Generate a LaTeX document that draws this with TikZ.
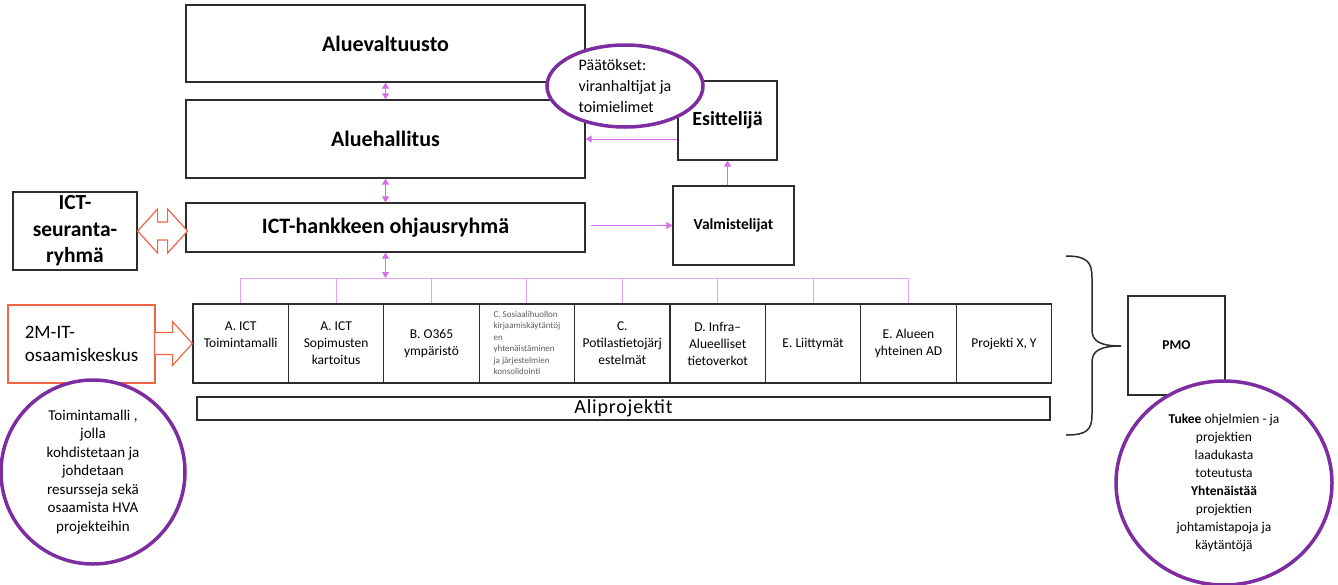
\documentclass[tikz,border=0pt]{standalone}
\usepackage{fontspec}
\setmainfont{Carlito}
\usepackage{tikz}
\usetikzlibrary{arrows.meta,shapes.geometric}
\definecolor{boxline}{RGB}{45,45,45}
\definecolor{linkpink}{RGB}{212,110,235}
\definecolor{forkpink}{RGB}{226,165,240}
\definecolor{ringpurple}{RGB}{125,45,160}
\definecolor{arroworange}{RGB}{240,100,70}
\definecolor{smallgray}{RGB}{95,95,95}

\begin{document}
\begin{tikzpicture}[x=1pt,y=-1pt,
		box/.style={draw=boxline,line width=1.2pt,fill=white,inner sep=0pt,align=center},
		ring/.style={draw=ringpurple,line width=3.5pt,fill=white,ellipse,inner sep=0pt,align=center},
		link/.style={draw=linkpink,line width=1pt,-{Triangle[width=7pt,length=6pt]}},
		twolink/.style={draw=linkpink,line width=1pt,{Triangle[width=7pt,length=6pt]}-{Triangle[width=7pt,length=6pt]}},
		forkline/.style={draw=forkpink,line width=1pt},
		blockarrow/.style={draw=arroworange,line width=1.2pt,fill=white,line join=miter},
		bigbold/.style={font=\fontsize{22}{26}\selectfont\bfseries},
		rowtext/.style={font=\fontsize{13.5}{17}\selectfont},
		ringtext/.style={font=\fontsize{15}{18.5}\selectfont}]
	\useasboundingbox (0,0) rectangle (1338,584);
	% hallinto
	\node[box,bigbold,minimum width=399,minimum height=77] (aval) at (385.5,43.5) {Aluevaltuusto};
	\node[box,bigbold,minimum width=399,minimum height=78] (ahal) at (385.5,139) {Aluehallitus};
	\node[box,bigbold,minimum width=399,minimum height=49] (ohj) at (385.5,227.5) {ICT-hankkeen ohjausryhmä};
	\node[box,font=\fontsize{20}{24}\selectfont\bfseries,minimum width=99,minimum height=79] (esit) at (727.5,120.5) {Esittelijä};
	\node[box,font=\fontsize{15.5}{18}\selectfont\bfseries,minimum width=121,minimum height=79] (valm) at (733.5,225.5) {Valmistelijat};
	\node[box,font=\fontsize{21.5}{26.5}\selectfont\bfseries,minimum width=124,minimum height=78] (seur) at (75,231) {ICT-\\seuranta-\\ryhmä};
	\node[box,draw=arroworange,font=\fontsize{19}{23}\selectfont,align=left,minimum width=147,minimum height=78] (osaa) at (81.5,344) {2M-IT-\\osaamiskeskus};
	% aliprojektit
	\foreach \i/\txt in {1/A. ICT\\Toimintamalli\\\mbox{},2/A. ICT\\Sopimusten\\kartoitus,3/B. O365\\ympäristö,
		4/{\fontsize{9}{11.5}\selectfont\color{smallgray}\begin{tabular}{@{}l@{}}C. Sosiaalihuollon\\kirjaamiskäytäntöj\\en\\yhtenäistäminen\\ja järjestelmien\\konsolidointi\end{tabular}},
		5/C.\\Potilastietojärj\\estelmät,6/D. Infra–\\Alueelliset\\tietoverkot,7/E. Liittymät,
		8/E. Alueen\\yhteinen AD,9/{Projekti X, Y}}
		\node[box,rowtext,minimum width=95.4,minimum height=79] (r\i) at ({193+95.4*(\i-0.5)},343.5) {\txt};
	\node[box,font=\fontsize{20}{22}\selectfont\addfontfeatures{LetterSpace=4},minimum width=853,minimum height=23] (alip) at (623.5,408.5) {Aliprojektit};
	\node[box,font=\fontsize{13.5}{16}\selectfont\bfseries,minimum width=97,minimum height=99] (pmo) at (1176.5,345.5) {PMO};
	% yhteydet
	\draw[twolink] (aval.south) -- (ahal.north);
	\draw[twolink] (ahal.south) -- (ohj.north);
	\coordinate (fork) at (ohj.south |- 0,278);
	\draw[twolink] (ohj.south) -- (fork);
	\draw[forkline] (r1.north |- fork) -- (r8.north |- fork);
	\foreach \i in {1,...,8}
		\draw[forkline] (r\i.north) -- (r\i.north |- fork);
	\draw[link] (esit.west |- ahal.east) -- (ahal.east);
	\draw[link] (valm.north -| esit.south) -- (esit.south);
	\draw[link,shorten <=5pt] (ohj.east |- valm.west) -- (valm.west);
	\draw[blockarrow] (seur.east) -- ++(20,-22) -- ++(0,13) -- ++(10,0) -- ++(0,-13) -- ++(20,22)
		-- ++(-20,22) -- ++(0,-13) -- ++(-10,0) -- ++(0,13) -- cycle;
	\draw[blockarrow] (r1.west) -- ++(-20,-22) -- ++(0,11) -- ++(-18,0) -- ++(0,22) -- ++(18,0) -- ++(0,11) -- cycle;
	\draw[boxline,line width=1.5pt] (1066,256) .. controls (1087,256) and (1092,262) .. (1092,278) -- (1092,330)
		.. controls (1092,341) and (1100,346) .. (1121,346) .. controls (1100,346) and (1092,351) .. (1092,362)
		-- (1092,414) .. controls (1092,430) and (1087,435) .. (1066,435);
	% kommentit
	\node[ring,align=left,font=\fontsize{16}{21}\selectfont,minimum width=156,minimum height=82] (paat) at (625,86) {Päätökset:\\viranhaltijat ja\\toimielimet};
	\node[ring,ringtext,minimum width=184,minimum height=184] (toim) at (93,472) {Toimintamalli ,\\jolla\\kohdistetaan ja\\johdetaan\\resursseja sekä\\osaamista HVA\\projekteihin};
	\node[ring,font=\fontsize{13.5}{18}\selectfont,minimum width=216,minimum height=204] (tuki) at (1224,483) {\textbf{Tukee} ohjelmien - ja\\projektien\\laadukasta\\toteutusta\\\textbf{Yhtenäistää}\\projektien\\johtamistapoja ja\\käytäntöjä};
\end{tikzpicture}
\end{document}
